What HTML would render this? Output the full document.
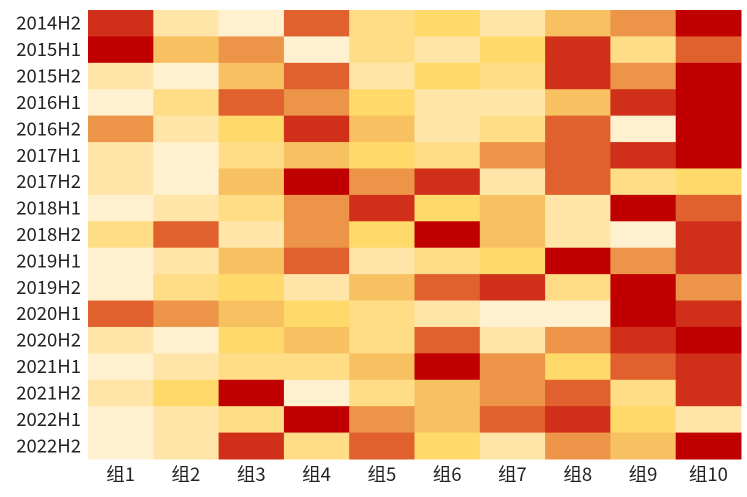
<!DOCTYPE html>
<html><head><meta charset="utf-8"><style>
body{margin:0;background:#fff;}
svg text{font-family:"Noto Sans CJK SC","Liberation Sans",sans-serif;font-size:18.5px;fill:#222;}
</style></head><body>
<svg id="chart" width="747" height="492" xmlns="http://www.w3.org/2000/svg">
<g id="cells"></g>
<g id="ylabels"></g>
<g id="xlabels"></g>
</svg>
<script>
const rowLabels = ["2014H2","2015H1","2015H2","2016H1","2016H2","2017H1","2017H2","2018H1","2018H2","2019H1","2019H2","2020H1","2020H2","2021H1","2021H2","2022H1","2022H2"];
const colLabels = ["组1","组2","组3","组4","组5","组6","组7","组8","组9","组10"];
const values = [
[7,1,0,6,2,3,1,4,5,8],
[8,4,5,0,2,1,3,7,2,6],
[1,0,4,6,1,3,2,7,5,8],
[0,2,6,5,3,1,1,4,7,8],
[5,1,3,7,4,1,2,6,0,8],
[1,0,2,4,3,2,5,6,7,8],
[1,0,4,8,5,7,1,6,2,3],
[0,1,2,5,7,3,4,1,8,6],
[2,6,1,5,3,8,4,1,0,7],
[0,1,4,6,1,2,3,8,5,7],
[0,2,3,1,4,6,7,2,8,5],
[6,5,4,3,2,1,0,0,8,7],
[1,0,3,4,2,6,1,5,7,8],
[0,1,2,2,4,8,5,3,6,7],
[1,3,8,0,2,4,5,6,2,7],
[0,1,2,8,5,4,6,7,3,1],
[0,1,7,2,6,3,1,5,4,8]
];
const palette = ["#fff0cf","#ffe6a8","#ffdc86","#ffd96a","#f7c162","#ec9447","#e0602e","#d0301a","#c00000"];
const NS="http://www.w3.org/2000/svg";
const x0=88,x1=741,y0=10,y1=459;
const cw=(x1-x0)/colLabels.length, ch=(y1-y0)/rowLabels.length;
const xPos=i=>x0+i*cw, yPos=j=>y0+j*ch;
const cells=document.getElementById('cells');
values.forEach((row,j)=>row.forEach((v,i)=>{
  const r=document.createElementNS(NS,'rect');
  r.setAttribute('x',xPos(i));r.setAttribute('y',yPos(j));
  r.setAttribute('width',cw+0.5);r.setAttribute('height',ch+0.5);
  r.setAttribute('fill',palette[v]);
  
  
  cells.appendChild(r);
}));
const yl=document.getElementById('ylabels');
rowLabels.forEach((l,j)=>{
  const t=document.createElementNS(NS,'text');
  t.setAttribute('x',81);t.setAttribute('y',yPos(j)+ch/2+6.5);
  t.setAttribute('text-anchor','end');t.textContent=l;
  
  
  yl.appendChild(t);
});
const xl=document.getElementById('xlabels');
colLabels.forEach((l,i)=>{
  const t=document.createElementNS(NS,'text');
  t.setAttribute('x',xPos(i)+cw/2);t.setAttribute('y',481);
  t.setAttribute('text-anchor','middle');t.textContent=l;
  
  
  xl.appendChild(t);
});
</script>
</body></html>
